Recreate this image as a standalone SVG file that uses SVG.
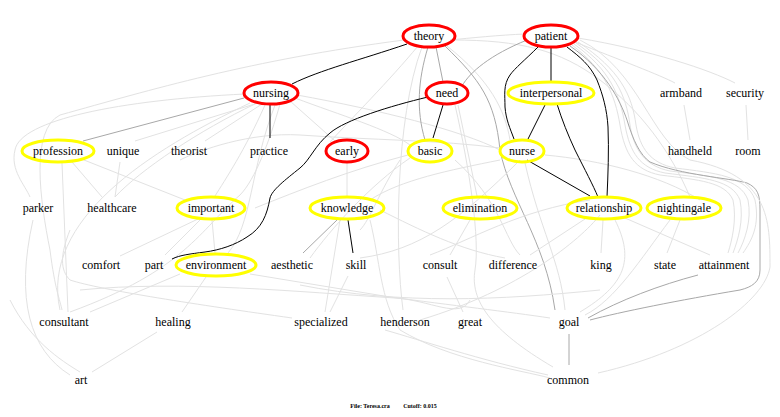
<svg xmlns="http://www.w3.org/2000/svg" width="780" height="417" viewBox="0 0 780 417" font-family="'Liberation Serif', 'DejaVu Serif', serif">
<style>
text{font-family:"Liberation Serif","Noto Serif","DejaVu Serif",serif;font-size:12px;fill:#000;text-anchor:middle}
.r{fill:none;stroke:#ff0000;stroke-width:3}
.y{fill:none;stroke:#ffff00;stroke-width:3}
.l{fill:none;stroke:#e2e2e2;stroke-width:1}
.m{fill:none;stroke:#a8a8a8;stroke-width:1}
.k{fill:none;stroke:#000;stroke-width:1}
.f{font-size:6px;font-weight:bold}
</style>
<rect width="780" height="417" fill="#fff"/>
<g id="connectors">
<path class="l" d="M258,103 L135,141"/>
<path class="l" d="M262,104 L205,141"/>
<path class="l" d="M290,101 L335,141"/>
<path class="l" d="M295,98 C340,115 390,130 410,145"/>
<path class="l" d="M297,95 C380,110 460,130 500,150"/>
<path class="l" d="M255,104 C200,130 140,170 115,197"/>
<path class="l" d="M245,94 C120,100 20,120 15,150 C10,170 25,185 30,197"/>
<path class="l" d="M250,103 C150,150 40,220 60,310"/>
<path class="l" d="M265,105 C245,150 225,180 215,196"/>
<path class="l" d="M275,105 C250,170 252,225 228,253"/>
<path class="l" d="M280,104 C270,140 255,180 240,195 C200,230 185,270 70,312"/>
<path class="l" d="M404,40 C250,60 150,90 60,115 C30,130 40,200 50,250 C55,290 60,300 62,310"/>
<path class="m" d="M428,47 C418,80 416,110 425,140"/>
<path class="m" d="M436,47 L443,82"/>
<path class="l" d="M447,46 C490,80 505,110 510,140"/>
<path class="m" d="M445,46 C480,80 495,100 500,150 C510,200 545,240 555,310"/>
<path class="l" d="M422,47 C395,120 395,250 403,310"/>
<path class="l" d="M418,46 C390,80 350,120 330,142"/>
<path class="l" d="M452,40 C520,40 560,50 600,80 C640,110 670,150 690,197"/>
<path class="m" d="M527,40 C490,55 470,72 462,86"/>
<path class="l" d="M525,34 C500,35 470,38 450,40"/>
<path class="l" d="M575,42 C620,60 660,75 675,83"/>
<path class="l" d="M578,38 C650,50 710,70 735,83"/>
<path class="l" d="M572,45 C605,70 615,95 620,125 C625,155 635,170 660,175 C700,180 725,182 733,200 C737,220 732,240 728,253"/>
<path class="l" d="M574,44 C610,70 620,95 625,125 C630,153 640,168 665,173 C705,178 732,180 740,200 C744,220 738,240 733,253"/>
<path class="l" d="M576,43 C615,70 626,95 630,125 C634,150 645,166 670,171 C710,176 740,178 748,200 C752,220 745,240 738,253"/>
<path class="l" d="M578,42 C620,70 632,95 636,125 C640,148 650,163 675,168 C715,173 747,176 755,200 C760,225 752,240 743,253"/>
<path class="m" d="M570,46 C605,70 620,100 627,120 C633,140 640,155 650,162 C680,175 730,178 747,183 C758,188 760,195 760,210 L760,270 C760,282 752,287 740,290 C680,300 620,312 590,320"/>
<path class="l" d="M580,40 C640,70 650,140 690,160 C770,175 770,220 770,267 C765,300 700,350 598,373"/>
<path class="l" d="M684,105 L690,140"/>
<path class="l" d="M746,105 L748,140"/>
<path class="l" d="M72,162 L102,197"/>
<path class="l" d="M84,160 L185,200"/>
<path class="l" d="M62,163 L68,312"/>
<path class="l" d="M120,162 L115,197"/>
<path class="l" d="M347,163 L347,196"/>
<path class="l" d="M212,220 L215,253"/>
<path class="l" d="M198,219 L120,256"/>
<path class="l" d="M200,220 L165,255"/>
<path class="l" d="M180,274 L90,312"/>
<path class="l" d="M206,277 L182,312"/>
<path class="l" d="M250,274 L390,297 C450,305 510,312 550,318"/>
<path class="l" d="M70,230 C60,255 60,270 70,280 C100,290 200,305 292,318"/>
<path class="l" d="M157,332 L92,372"/>
<path class="l" d="M33,220 C15,300 30,350 70,375"/>
<path class="l" d="M340,220 L325,312"/>
<path class="l" d="M348,276 L330,312"/>
<path class="l" d="M470,220 L450,255"/>
<path class="l" d="M458,105 L477,196"/>
<path class="l" d="M447,277 L463,312"/>
<path class="l" d="M603,220 L601,253"/>
<path class="l" d="M585,219 L530,255"/>
<path class="l" d="M625,218 L710,255"/>
<path class="l" d="M680,220 L667,253"/>
<path class="l" d="M670,220 C640,260 615,300 585,315"/>
<path class="l" d="M615,220 C635,260 625,285 580,312"/>
<path class="l" d="M525,163 C540,230 560,260 565,310"/>
<path class="l" d="M545,155 C600,160 660,175 700,200"/>
<path class="l" d="M455,105 C470,170 480,240 475,270 C470,300 490,330 553,367"/>
<path class="l" d="M385,330 C420,340 480,360 548,375"/>
<path class="l" d="M470,300 C460,320 430,300 395,298 C300,292 180,280 80,290"/>
<path class="l" d="M500,160 C450,170 400,180 370,200"/>
<path class="l" d="M408,155 C350,170 300,190 255,208"/>
<path class="l" d="M410,158 C370,185 330,230 310,258"/>
<path class="l" d="M455,160 C500,200 505,240 520,255"/>
<path class="l" d="M500,148 C440,140 370,140 300,135 C250,132 200,150 180,160"/>
<path class="l" d="M520,160 C460,220 420,250 360,258"/>
<path class="l" d="M590,200 C520,210 470,240 430,255"/>
<path class="l" d="M600,215 C580,240 520,290 420,320"/>
<path class="l" d="M380,210 C420,230 460,250 505,258"/>
<path class="l" d="M10,300 C30,340 60,360 80,372"/>
<path class="l" d="M600,290 C500,300 400,305 300,285"/>
<path class="l" d="M370,220 C380,260 380,300 400,330 C450,360 520,370 550,378"/>
<path class="l" d="M400,160 C380,190 370,220 360,230"/>
<path class="m" d="M244,98 L83,141"/>
<path class="m" d="M337,220 L303,253"/>
<path class="m" d="M569,334 L569,365"/>
<path class="m" d="M698,275 C660,285 620,300 588,318"/>
<path class="k" d="M407,44 C360,60 320,70 292,84"/>
<path class="k" d="M270,105 L270,138"/>
<path class="k" d="M428,97 C390,106 345,120 330,133 C315,145 310,160 300,168 C285,180 272,190 270,198 C267,215 262,228 247,237 C235,245 220,250 205,252 C190,254 180,255 172,259"/>
<path class="k" d="M443,105 L433,138"/>
<path class="k" d="M551,47 L551,81"/>
<path class="k" d="M538,47 C525,60 515,68 510,75 C503,85 505,95 505,107 C506,120 510,128 514,139"/>
<path class="k" d="M567,47 C580,57 590,65 597,80 C603,95 607,110 608,127 C609,150 608,175 607,197"/>
<path class="k" d="M545,105 L528,139"/>
<path class="k" d="M557,104 C562,120 568,135 575,150 C585,170 593,185 598,197"/>
<path class="k" d="M527,160 L590,196"/>
<path class="k" d="M348,220 L353,253"/>
</g>
<g id="theory"><ellipse class="r" cx="429" cy="36" rx="26" ry="11"/><text x="429" y="40">theory</text></g>
<g id="patient"><ellipse class="r" cx="551" cy="36" rx="27" ry="11"/><text x="551" y="40">patient</text></g>
<g id="nursing"><ellipse class="r" cx="271" cy="93" rx="27" ry="11"/><text x="271" y="97">nursing</text></g>
<g id="need"><ellipse class="r" cx="447" cy="93" rx="21" ry="11"/><text x="447" y="97">need</text></g>
<g id="interpersonal"><ellipse class="y" cx="551" cy="93" rx="43" ry="11"/><text x="551" y="97">interpersonal</text></g>
<g id="armband"><text x="681" y="97">armband</text></g>
<g id="security"><text x="745" y="97">security</text></g>
<g id="profession"><ellipse class="y" cx="58" cy="151" rx="36" ry="11"/><text x="58" y="155">profession</text></g>
<g id="unique"><text x="123" y="155">unique</text></g>
<g id="theorist"><text x="189" y="155">theorist</text></g>
<g id="practice"><text x="269" y="155">practice</text></g>
<g id="early"><ellipse class="r" cx="347" cy="151" rx="21" ry="11"/><text x="347" y="155">early</text></g>
<g id="basic"><ellipse class="y" cx="430" cy="151" rx="22" ry="11"/><text x="430" y="155">basic</text></g>
<g id="nurse"><ellipse class="y" cx="522" cy="151" rx="22" ry="11"/><text x="522" y="155">nurse</text></g>
<g id="handheld"><text x="690" y="155">handheld</text></g>
<g id="room"><text x="748" y="155">room</text></g>
<g id="parker"><text x="38" y="212">parker</text></g>
<g id="healthcare"><text x="112" y="212">healthcare</text></g>
<g id="important"><ellipse class="y" cx="211" cy="208" rx="34" ry="11"/><text x="211" y="212">important</text></g>
<g id="knowledge"><ellipse class="y" cx="347" cy="208" rx="37" ry="11"/><text x="347" y="212">knowledge</text></g>
<g id="elimination"><ellipse class="y" cx="480" cy="208" rx="37" ry="11"/><text x="480" y="212">elimination</text></g>
<g id="relationship"><ellipse class="y" cx="604" cy="208" rx="37" ry="11"/><text x="604" y="212">relationship</text></g>
<g id="nightingale"><ellipse class="y" cx="684" cy="208" rx="37" ry="11"/><text x="684" y="212">nightingale</text></g>
<g id="comfort"><text x="101" y="269">comfort</text></g>
<g id="part"><text x="154" y="269">part</text></g>
<g id="environment"><ellipse class="y" cx="216" cy="265" rx="40" ry="11"/><text x="216" y="269">environment</text></g>
<g id="aesthetic"><text x="292" y="269">aesthetic</text></g>
<g id="skill"><text x="356" y="269">skill</text></g>
<g id="consult"><text x="440" y="269">consult</text></g>
<g id="difference"><text x="513" y="269">difference</text></g>
<g id="king"><text x="601" y="269">king</text></g>
<g id="state"><text x="665" y="269">state</text></g>
<g id="attainment"><text x="724" y="269">attainment</text></g>
<g id="consultant"><text x="64" y="326">consultant</text></g>
<g id="healing"><text x="173" y="326">healing</text></g>
<g id="specialized"><text x="321" y="326">specialized</text></g>
<g id="henderson"><text x="405" y="326">henderson</text></g>
<g id="great"><text x="470" y="326">great</text></g>
<g id="goal"><text x="569" y="326">goal</text></g>
<g id="art"><text x="81" y="384">art</text></g>
<g id="common"><text x="568" y="384">common</text></g>
<text class="f" x="370" y="408">File: Teresa.cra</text>
<text class="f" x="420" y="408">Cutoff: 0.015</text>
</svg>
